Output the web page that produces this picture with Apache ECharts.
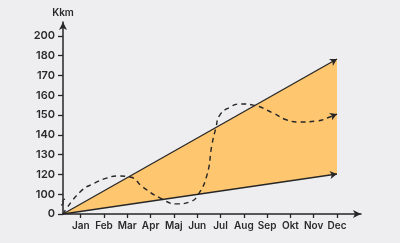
<!DOCTYPE html>
<html><head><meta charset="utf-8">
<script src="https://cdn.jsdelivr.net/npm/echarts@6/dist/echarts.min.js"></script>
<style>html,body{margin:0;padding:0;background:#EEEEF0}#c{width:400px;height:243px}</style>
</head><body><div id="c"></div>
<script>
// Categories and tick labels
const months = ['Jan','Feb','Mar','Apr','Maj','Jun','Jul','Aug','Sep','Okt','Nov','Dec'];
const yLabels = ['0','100','120','130','140','150','160','170','180','200'];
// Series values (x = month position, Jan = 1; y = tick index on the broken axis)
const originX = 0.24;
const lowerLine = [[originX, 0], [12, 2.02]];
const upperLine = [[originX, 0], [12, 7.83]];
const dashedCurve = [
  [0.24,0],[0.97,1.11],[1.61,1.57],[2.13,1.82],[2.56,1.92],[3.12,1.87],[3.67,1.36],
  [4.40,0.81],[5.13,0.51],[5.69,0.61],[6.03,0.96],[6.42,1.97],[6.63,3.48],[6.80,4.34],
  [6.97,5.0],[7.41,5.40],[7.84,5.56],[8.40,5.50],[9.25,5.10],[9.85,4.75],[10.41,4.65],
  [11.14,4.70],[11.70,4.90],[12.0,5.05]
];

const ink = '#262626';
const font = 'Inter, "Liberation Sans", Arial, sans-serif';

function withArrow(data, rot){
  return data.map((p,i)=> i===data.length-1
    ? {value:p, symbol:'arrow', symbolSize:[6,7], symbolRotate:rot, itemStyle:{color:ink}}
    : {value:p, symbol:'none'});
}

const chart = echarts.init(document.getElementById('c'));
chart.setOption({
  backgroundColor:'#EEEEF0',
  animation:false,
  grid:{left:63,right:39,top:22,bottom:29,containLabel:false},
  xAxis:{
    type:'value', min:originX, max:13.03,
    axisLine:{show:true,lineStyle:{color:ink,width:1.5},symbol:['none','arrow'],symbolSize:[6,8]},
    axisTick:{show:true,customValues:months.map((m,i)=>i+1),length:4,lineStyle:{color:ink,width:1.3}},
    axisLabel:{customValues:months.map((m,i)=>i+1),formatter:v=>months[Math.round(v)-1]||'',
      color:'#2a2a2a',fontFamily:font,fontSize:10,fontWeight:600,margin:7},
    splitLine:{show:false}
  },
  yAxis:{
    type:'value', min:0, max:9.7,
    name:'Kkm', nameLocation:'end', nameGap:4,
    nameTextStyle:{color:'#2a2a2a',fontFamily:font,fontSize:10,fontWeight:600,align:'center'},
    axisLine:{show:true,lineStyle:{color:ink,width:1.5},symbol:['none','arrow'],symbolSize:[6,8]},
    axisTick:{show:true,customValues:yLabels.map((l,i)=>i),length:5,lineStyle:{color:ink,width:1.3}},
    axisLabel:{customValues:yLabels.map((l,i)=>i),formatter:v=>yLabels[Math.round(v)]||'',
      color:'#2a2a2a',fontFamily:font,fontSize:11,fontWeight:600,margin:8},
    splitLine:{show:false}
  },
  series:[
    {type:'custom',name:'band',data:[0],z:1,silent:true,
      renderItem:(params,api)=>{
        const pts = upperLine.map(p=>api.coord(p)).concat(lowerLine.slice().reverse().map(p=>api.coord(p)));
        return {type:'polygon',shape:{points:pts},style:{fill:'#FFC670',stroke:null}};
      }},
    {type:'line',name:'lower',data:withArrow(lowerLine,-81.7),
      lineStyle:{color:ink,width:1.3},showSymbol:true,z:3},
    {type:'line',name:'upper',data:withArrow(upperLine,-60.5),
      lineStyle:{color:ink,width:1.3},showSymbol:true,z:3},
    {type:'line',name:'dashed',data:withArrow(dashedCurve,-68),smooth:0.5,
      lineStyle:{color:ink,width:1.4,type:[5,4]},showSymbol:true,z:4}
  ]
});
// small axis-break mark on the y axis between 0 and 100
const p = chart.convertToPixel({gridIndex:0},[originX,0.6]);
chart.setOption({graphic:[{type:'bezierCurve',shape:{x1:p[0]-2,y1:p[1]+3,x2:p[0]+2,y2:p[1]-3,cpx1:p[0]+3,cpy1:p[1]+2,cpx2:p[0]-3,cpy2:p[1]-2},
  style:{stroke:ink,lineWidth:1.2,fill:null},z:10}]});
</script></body></html>
